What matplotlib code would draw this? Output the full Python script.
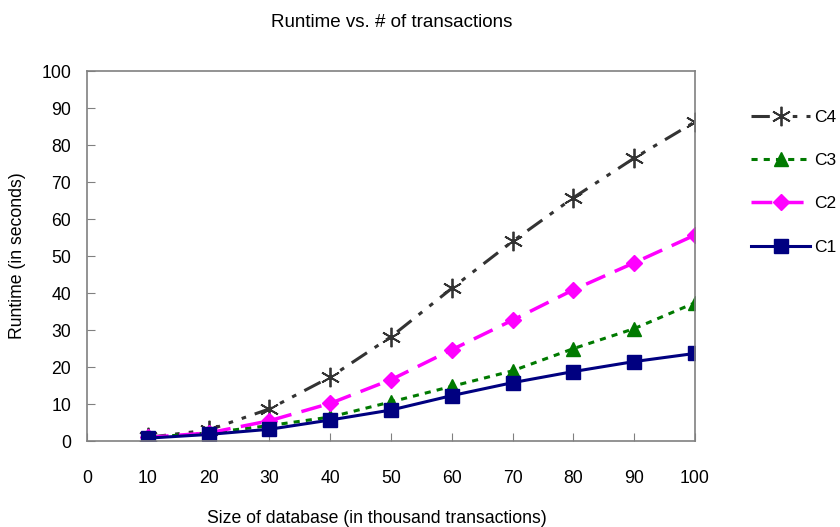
import numpy as np
import matplotlib.pyplot as plt

plt.rcParams['font.family'] = ['Liberation Sans', 'DejaVu Sans']

# data
size = [10, 20, 30, 40, 50, 60, 70, 80, 90, 100]
c1 = [0.8, 1.8, 3.2, 5.7, 8.4, 12.3, 15.8, 18.8, 21.5, 23.7]
c2 = [1.0, 2.2, 5.5, 10.2, 16.6, 24.7, 32.7, 40.9, 48.2, 55.7]
c3 = [1.0, 2.2, 4.2, 6.5, 10.6, 14.8, 19.0, 25.0, 30.4, 37.4]
c4 = [1.0, 3.0, 8.7, 17.3, 28.2, 41.3, 54.0, 65.8, 76.5, 86.3]

fig = plt.figure(figsize=(8.4, 5.27), dpi=100)
ax = fig.add_axes([0.1036, 0.163, 0.7238, 0.702])

l4, = ax.plot(size, c4, color='#333333', lw=2.2, linestyle=(0, (6, 3, 1.5, 3, 1.5, 3)),
              marker=(6, 2, 0), markersize=14, markeredgewidth=1.3, label='C4')
l3, = ax.plot(size, c3, color='#007a00', lw=2.2, linestyle=(0, (2, 2)),
              marker='^', markersize=10, label='C3')
l2, = ax.plot(size, c2, color='#ff00ff', lw=2.5, linestyle=(0, (6, 3)),
              marker='D', markersize=8, label='C2')
l1, = ax.plot(size, c1, color='#000080', lw=2.2, linestyle='-',
              marker='s', markersize=10, label='C1')

ax.set_xlim(0, 100)
ax.set_ylim(0, 100)
ax.set_xticks(np.arange(0, 101, 10))
ax.set_yticks(np.arange(0, 101, 10))
ax.tick_params(direction='in', length=6, color='#808080', labelsize=12.7)
ax.tick_params(axis='x', pad=21)
ax.tick_params(axis='y', pad=11.5)
for s in ax.spines.values():
    s.set_color('#808080')
    s.set_linewidth(1.2)

ax.set_xlabel('Size of database (in thousand transactions)', fontsize=12.7)
ax.set_ylabel('Runtime (in seconds)', fontsize=12.7)
ax.xaxis.set_label_coords(0.477, -0.186)
ax.yaxis.set_label_coords(-0.1, 0.5)
fig.text(0.466, 0.958, 'Runtime vs. # of transactions', ha='center', va='center', fontsize=13.5)

fig.legend(handles=[l4, l3, l2, l1], loc='upper left', bbox_to_anchor=(0.886, 0.805),
           frameon=False, fontsize=12.5, labelspacing=1.62, handlelength=3.4,
           handletextpad=0.2, borderaxespad=0)

fig.savefig('out.png', dpi=100)
